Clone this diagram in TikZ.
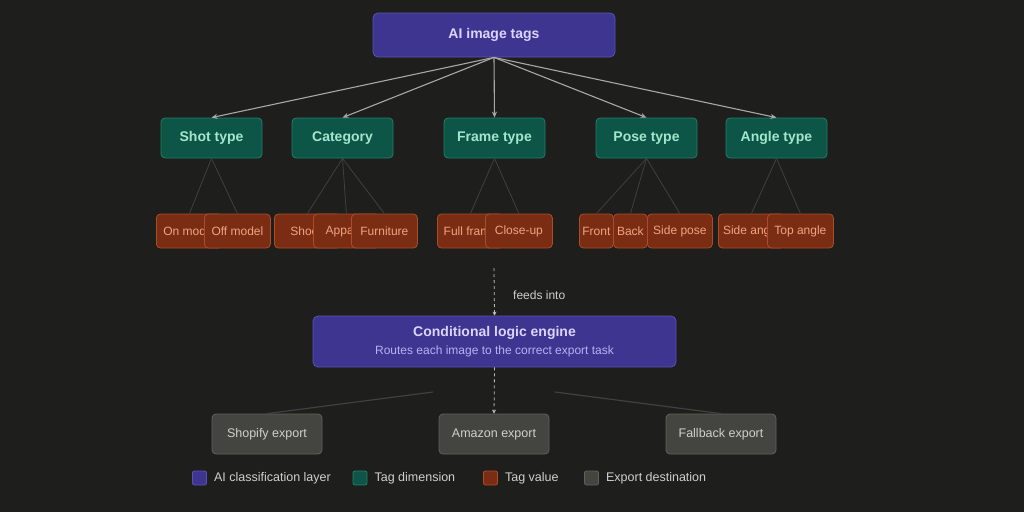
\documentclass[tikz,border=0pt]{standalone}
\usepackage{fontspec}
\setmainfont{Liberation Sans}
\usetikzlibrary{arrows.meta,positioning}

\definecolor{bgcol}{HTML}{1E1E1C}
\definecolor{aifill}{HTML}{3D3590}
\definecolor{aidraw}{HTML}{5B52B5}
\definecolor{aitext}{HTML}{D9D5FF}
\definecolor{aisub}{HTML}{B9B1F2}
\definecolor{dimfill}{HTML}{0D5546}
\definecolor{dimdraw}{HTML}{22806A}
\definecolor{dimtext}{HTML}{A3E6CC}
\definecolor{valfill}{HTML}{7A2D12}
\definecolor{valdraw}{HTML}{AB4C2B}
\definecolor{valtext}{HTML}{F2A383}
\definecolor{expfill}{HTML}{444441}
\definecolor{expdraw}{HTML}{62615C}
\definecolor{exptext}{HTML}{CFCFCB}
\definecolor{linecol}{HTML}{A8A8A6}
\definecolor{faintcol}{HTML}{404040}

\begin{document}
\begin{tikzpicture}[x=1pt, y=-1pt,
  aibox/.style={draw=aidraw, fill=aifill, rounded corners=5pt, line width=0.8pt,
    text=aitext, font=\fontsize{14}{16}\selectfont\bfseries, align=center},
  dimbox/.style={draw=dimdraw, fill=dimfill, rounded corners=4pt, line width=0.8pt,
    text=dimtext, font=\fontsize{14}{16}\selectfont\bfseries,
    minimum width=101pt, minimum height=40pt, inner sep=0pt},
  valbox/.style={draw=valdraw, fill=valfill, rounded corners=4pt, line width=0.8pt,
    text=valtext, font=\fontsize{12}{14}\selectfont,
    minimum height=34pt, inner xsep=2pt, inner ysep=0pt, anchor=west},
  expbox/.style={draw=expdraw, fill=expfill, rounded corners=4pt, line width=0.8pt,
    text=exptext, font=\fontsize{12.5}{14}\selectfont,
    minimum width=110pt, minimum height=40pt, inner sep=0pt},
  legbox/.style={rounded corners=2pt, line width=0.8pt, minimum size=14pt, inner sep=0pt},
  legtext/.style={text=exptext, font=\fontsize{12.5}{14}\selectfont, anchor=west, inner sep=0pt},
  tip/.style={-{Stealth[length=6pt, width=5pt]}}
]
  % 背景
  \fill[bgcol] (0,0) rectangle (1024,512);
  \useasboundingbox (0,0) rectangle (1024,512);

  % 顶层节点
  \node[aibox, minimum width=242pt, minimum height=44pt] (tags) at (494,35) {AI image tags};

  % 标签维度
  \foreach \x/\txt/\nm in {211.5/Shot type/shot, 342.5/Category/cat, 494.5/Frame type/frame,
                           646.5/Pose type/pose, 776.5/Angle type/angle}
    \node[dimbox] (\nm) at (\x,138) {\txt};
  \foreach \nm in {shot,cat,frame,pose,angle}
    \draw[linecol, line width=1.1pt, tip] (tags.south) -- (\nm.north);

  % 标签取值（按左边缘放置，后画的盖住前面的）
  \foreach \x/\w/\txt/\nm in {156/66/On model/onm, 204/66/Off model/offm,
                              274/66/Shoes/shoes, 313/66/Apparel/appa, 351/66/Furniture/furn,
                              437/66/Full frame/full, 485/67/Close-up/close,
                              579/34/Front/front, 613/34/Back/back, 647/65/Side pose/sidep,
                              718/66/Side angle/sidea, 767/66/Top angle/topa}
    \node[valbox, minimum width=\w pt] (\nm) at (\x,231) {\txt};
  \foreach \p/\nm in {shot/onm, shot/offm, cat/shoes, cat/appa, cat/furn,
                      frame/full, frame/close, pose/front, pose/back, pose/sidep,
                      angle/sidea, angle/topa}
    \draw[faintcol, line width=0.8pt] (\p.south) -- (\nm.north);

  % 条件逻辑引擎
  \node[aibox, minimum width=363pt, minimum height=51pt, inner sep=0pt] (engine) at (494.5,341.5)
    {Conditional logic engine\\[2pt]
     {\fontsize{12}{14}\selectfont\mdseries\color{aisub}Routes each image to the correct export task}};
  \coordinate (feed) at (494,268);
  \draw[linecol!75, line width=0.8pt, dashed, -{Stealth[length=4pt, width=4pt]}] (feed) -- (engine.north);
  \node[text=exptext, font=\fontsize{12}{14}\selectfont, anchor=west, inner sep=0pt] (feedlbl)
    at (513,295) {feeds into};

  % 导出目标
  \node[expbox] (shopify)  at (267,434) {Shopify export};
  \node[expbox] (amazon)   at (494,434) {Amazon export};
  \node[expbox] (fallback) at (721,434) {Fallback export};
  \draw[linecol!75, line width=0.8pt, dashed, -{Stealth[length=4pt, width=4pt]}] (engine.south) -- (amazon.north);
  \coordinate (splitl) at (433,392);
  \coordinate (splitr) at (555,392);
  \draw[faintcol, line width=1.2pt] (splitl) -- (shopify.north);
  \draw[faintcol, line width=1.2pt] (splitr) -- (fallback.north);

  % 图例
  \node[legbox, draw=aidraw, fill=aifill] (legai) at (199.5,478) {};
  \node[legtext, right=7pt of legai] (legaitxt) {AI classification layer};
  \node[legbox, draw=dimdraw, fill=dimfill] (legdim) at (360,478) {};
  \node[legtext, right=7pt of legdim] (legdimtxt) {Tag dimension};
  \node[legbox, draw=valdraw, fill=valfill] (legval) at (490.5,478) {};
  \node[legtext, right=7pt of legval] (legvaltxt) {Tag value};
  \node[legbox, draw=expdraw, fill=expfill] (legexp) at (591.5,478) {};
  \node[legtext, right=7pt of legexp] (legexptxt) {Export destination};
\end{tikzpicture}
\end{document}
